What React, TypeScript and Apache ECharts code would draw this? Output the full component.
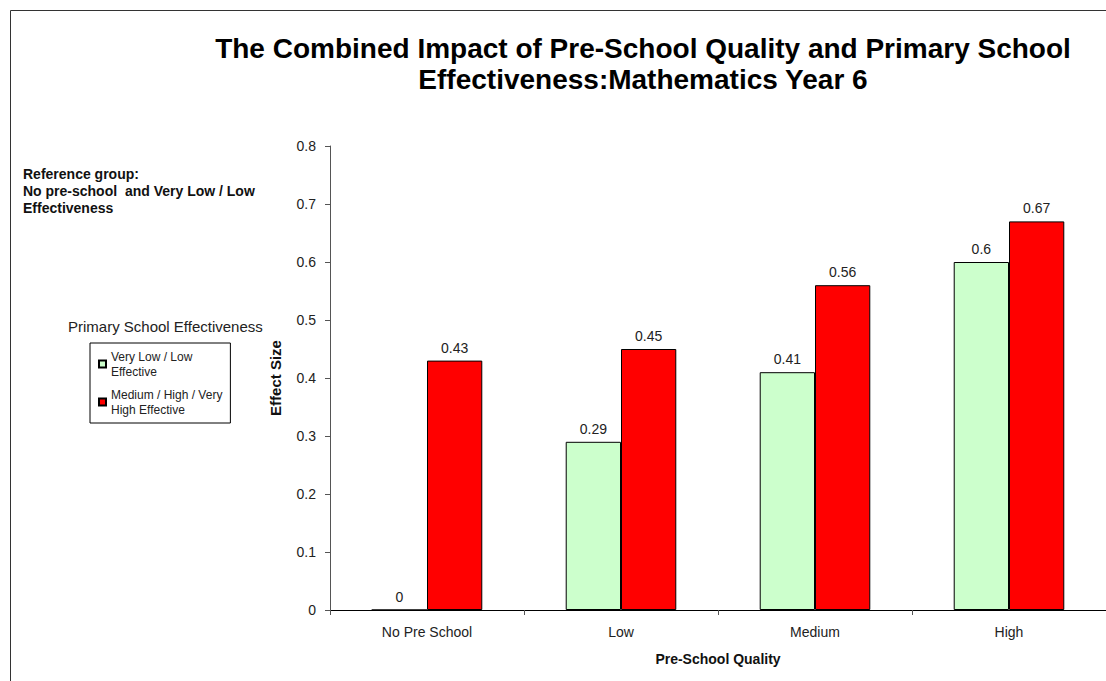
import React, { useEffect, useRef } from "react";
import * as echarts from "echarts";

const categories = ["No Pre School", "Low", "Medium", "High"];
const lowEffective = [0, 0.29, 0.41, 0.6];
const highEffective = [0.43, 0.45, 0.56, 0.67];
const seriesNames = ["Very Low / Low\nEffective", "Medium / High / Very\nHigh Effective"];
const titleLines = [
  "The Combined Impact of Pre-School Quality and Primary School",
  "Effectiveness:Mathematics Year 6",
];
const referenceText = "Reference group:\nNo pre-school  and Very Low / Low\nEffectiveness";
const legendTitle = "Primary School Effectiveness";

const FONT = "'Liberation Sans', Arial, sans-serif";

export default function App() {
  const ref = useRef<HTMLDivElement>(null);
  useEffect(() => {
    if (!ref.current) return;
    const chart = echarts.init(ref.current, null, { renderer: "svg" });
    chart.setOption({
      animation: false,
      backgroundColor: "#ffffff",
      textStyle: { fontFamily: FONT },
      title: {
        text: titleLines.join("\n"),
        left: 638,
        textAlign: "center",
        top: 28,
        textStyle: {
          fontFamily: FONT,
          fontSize: 28,
          fontWeight: "bold",
          color: "#000",
          lineHeight: 31,
        },
      },
      grid: { left: 330, right: -2, top: 146, bottom: 71, containLabel: false },
      legend: {
        orient: "vertical",
        left: 90,
        top: 343,
        padding: [6, 8, 6, 8],
        itemGap: 8,
        borderColor: "#000",
        borderWidth: 1,
        icon: "rect",
        itemWidth: 7,
        itemHeight: 7,
        textStyle: { fontFamily: FONT, fontSize: 12, color: "#222", lineHeight: 15 },
        data: seriesNames,
      },
      xAxis: {
        type: "category",
        data: categories,
        name: "Pre-School Quality",
        nameLocation: "middle",
        nameGap: 42,
        nameTextStyle: { fontFamily: FONT, fontSize: 14, fontWeight: "bold", color: "#111" },
        axisLine: { lineStyle: { color: "#000", width: 1 } },
        axisTick: { show: true, length: 5, lineStyle: { color: "#555" } },
        axisLabel: { fontFamily: FONT, fontSize: 14, color: "#222", margin: 15 },
        splitLine: { show: false },
      },
      yAxis: {
        type: "value",
        min: 0,
        max: 0.8,
        interval: 0.1,
        name: "Effect Size",
        nameLocation: "middle",
        nameGap: 47,
        nameTextStyle: { fontFamily: FONT, fontSize: 15, fontWeight: "bold", color: "#111" },
        axisLine: { show: true, lineStyle: { color: "#555" } },
        axisTick: { show: true, length: 5, lineStyle: { color: "#555" } },
        axisLabel: { fontFamily: FONT, fontSize: 14, color: "#222", margin: 14 },
        splitLine: { show: false },
      },
      series: [
        {
          name: seriesNames[0],
          type: "bar",
          data: lowEffective,
          barGap: "0%",
          barCategoryGap: "43%",
          itemStyle: { color: "#CCFFCC", borderColor: "#000", borderWidth: 1 },
          label: { show: true, position: "top", distance: 6, fontFamily: FONT, fontSize: 14, color: "#222" },
        },
        {
          name: seriesNames[1],
          type: "bar",
          data: highEffective,
          barGap: "0%",
          barCategoryGap: "43%",
          itemStyle: { color: "#FF0000", borderColor: "#000", borderWidth: 1 },
          label: { show: true, position: "top", distance: 6, fontFamily: FONT, fontSize: 14, color: "#222" },
        },
      ],
      graphic: [
        {
          type: "rect",
          shape: { x: 10.5, y: 10.5, width: 1200, height: 800 },
          style: { fill: "none", stroke: "#333", lineWidth: 1 },
          silent: true,
        },
        {
          type: "text",
          left: 23,
          top: 165,
          style: {
            text: referenceText,
            fontFamily: FONT,
            fontSize: 14,
            fontWeight: "bold",
            fill: "#111",
            lineHeight: 17,
          },
        },
        {
          type: "text",
          left: 68,
          top: 319,
          style: {
            text: legendTitle,
            fontFamily: FONT,
            fontSize: 15,
            fill: "#222",
          },
        },
      ],
    });
    return () => chart.dispose();
  }, []);
  return (
    <div
      ref={ref}
      style={{ position: "fixed", left: 0, top: 0, width: 1106, height: 681 }}
    />
  );
}
